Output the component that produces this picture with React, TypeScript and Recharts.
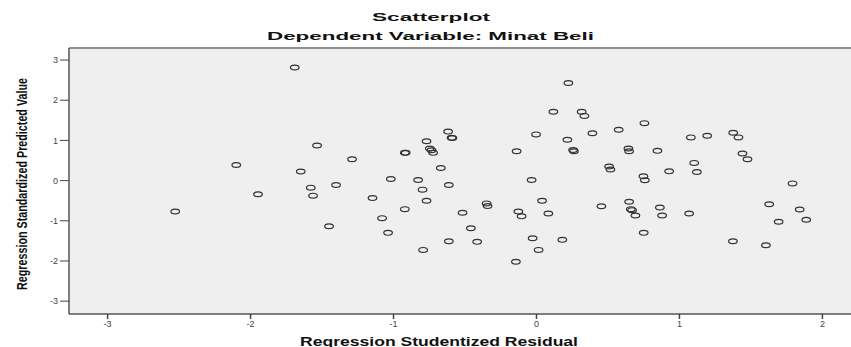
import {
  ScatterChart,
  Scatter,
  XAxis,
  YAxis,
  ReferenceArea,
  ReferenceLine,
} from "recharts";

// Regression Studentized Residual (x)
const residual = [
  -2.527, -2.1, -1.948, -1.691, -1.649, -1.579, -1.563, -1.535, -1.451, -1.402,
  -1.29, -1.147, -1.08, -1.038, -1.019, -0.921, -0.915, -0.921, -0.828, -0.797,
  -0.793, -0.769, -0.769, -0.746, -0.734, -0.723, -0.669, -0.618, -0.613, -0.613,
  -0.594, -0.588, -0.517, -0.459, -0.415, -0.349, -0.342, -0.144, -0.139, -0.127,
  -0.104, -0.034, -0.027, -0.003, 0.015, 0.039, 0.083, 0.118, 0.181, 0.216,
  0.223, 0.256, 0.262, 0.316, 0.335, 0.391, 0.454, 0.508, 0.517, 0.575,
  0.643, 0.648, 0.648, 0.66, 0.669, 0.692, 0.748, 0.75, 0.755, 0.758,
  0.846, 0.863, 0.879, 0.928, 1.068, 1.08, 1.103, 1.122, 1.194, 1.374,
  1.376, 1.413, 1.441, 1.476, 1.605, 1.628, 1.694, 1.791, 1.841, 1.887,
];

// Regression Standardized Predicted Value (y)
const predicted = [
  -0.77, 0.39, -0.34, 2.815, 0.225, -0.175, -0.375, 0.875, -1.135, -0.11,
  0.53, -0.435, -0.935, -1.3, 0.04, 0.69, 0.69, -0.71, 0.015, -0.225,
  -1.725, 0.98, -0.5, 0.8, 0.757, 0.69, 0.315, 1.22, -0.11, -1.51,
  1.065, 1.06, -0.8, -1.185, -1.525, -0.567, -0.635, -2.02, 0.73, -0.77,
  -0.89, 0.015, -1.435, 1.15, -1.725, -0.5, -0.82, 1.715, -1.475, 1.015,
  2.43, 0.76, 0.73, 1.715, 1.61, 1.18, -0.64, 0.35, 0.275, 1.265,
  0.8, 0.73, -0.525, -0.71, -0.735, -0.87, 0.11, -1.3, 1.43, 0.01,
  0.74, -0.67, -0.87, 0.23, -0.82, 1.075, 0.44, 0.215, 1.115, -1.51,
  1.19, 1.075, 0.675, 0.53, -1.61, -0.59, -1.025, -0.07, -0.72, -0.975,
];

const xTicks = [-3, -2, -1, 0, 1, 2];
const yTicks = [-3, -2, -1, 0, 1, 2, 3];

const points = residual.map((x, i) => ({ x, y: predicted[i] }));

const X_MIN = -3.27;
const X_MAX = 2.2;
const Y_MIN = -3.32;
const Y_MAX = 3.3;

const FONT = "Liberation Sans, Arial, sans-serif";

const RingMarker = (props: any) => {
  const { cx, cy } = props;
  if (cx == null || cy == null) return null;
  return (
    <ellipse
      cx={cx}
      cy={cy}
      rx={4.3}
      ry={2.4}
      fill="none"
      stroke="#333"
      strokeWidth={1.2}
    />
  );
};

const tickStyle = { fontSize: 9, fill: "#444", fontFamily: FONT };

export default function App() {
  return (
    <div
      style={{
        position: "absolute",
        left: 0,
        top: 0,
        width: 851,
        height: 347,
        background: "#fff",
        overflow: "hidden",
      }}>
      <ScatterChart
        width={851}
        height={347}
        margin={{ top: 48, right: 0, bottom: 0, left: 0 }}>
        <ReferenceArea
          x1={X_MIN}
          x2={X_MAX}
          y1={Y_MIN}
          y2={Y_MAX}
          fill="#efefef"
          fillOpacity={1}
          stroke="none"
        />
        <XAxis
          type="number"
          dataKey="x"
          domain={[X_MIN, X_MAX]}
          ticks={xTicks}
          allowDataOverflow
          height={33}
          tick={tickStyle}
          tickSize={5}
          tickLine={{ stroke: "#444", strokeWidth: 1.5 }}
          axisLine={{ stroke: "#555", strokeWidth: 1.5 }}
        />
        <YAxis
          type="number"
          dataKey="y"
          domain={[Y_MIN, Y_MAX]}
          ticks={yTicks}
          allowDataOverflow
          width={69}
          tick={tickStyle}
          tickSize={9}
          tickMargin={2}
          tickLine={{ stroke: "#444", strokeWidth: 1 }}
          axisLine={{ stroke: "#555", strokeWidth: 1.5 }}
        />
        <ReferenceLine y={Y_MAX} stroke="#8f8f8f" strokeWidth={2} />
        <Scatter
          data={points}
          shape={RingMarker}
          isAnimationActive={false}
        />
      </ScatterChart>
      <svg
        width={851}
        height={347}
        style={{ position: "absolute", left: 0, top: 0, pointerEvents: "none" }}>
        <g fontFamily={FONT} fontWeight="bold" fill="#111">
          <text x={372} y={21} fontSize={11} textLength={118} lengthAdjust="spacingAndGlyphs">
            Scatterplot
          </text>
          <text x={267} y={40} fontSize={11.5} textLength={327} lengthAdjust="spacingAndGlyphs">
            Dependent Variable: Minat Beli
          </text>
          <text x={300} y={346} fontSize={13} textLength={278} lengthAdjust="spacingAndGlyphs">
            Regression Studentized Residual
          </text>
          <text
            x={0}
            y={0}
            fontSize={15}
            textLength={212}
            lengthAdjust="spacingAndGlyphs"
            transform="translate(27,290) rotate(-90)">
            Regression Standardized Predicted Value
          </text>
        </g>
      </svg>
    </div>
  );
}
